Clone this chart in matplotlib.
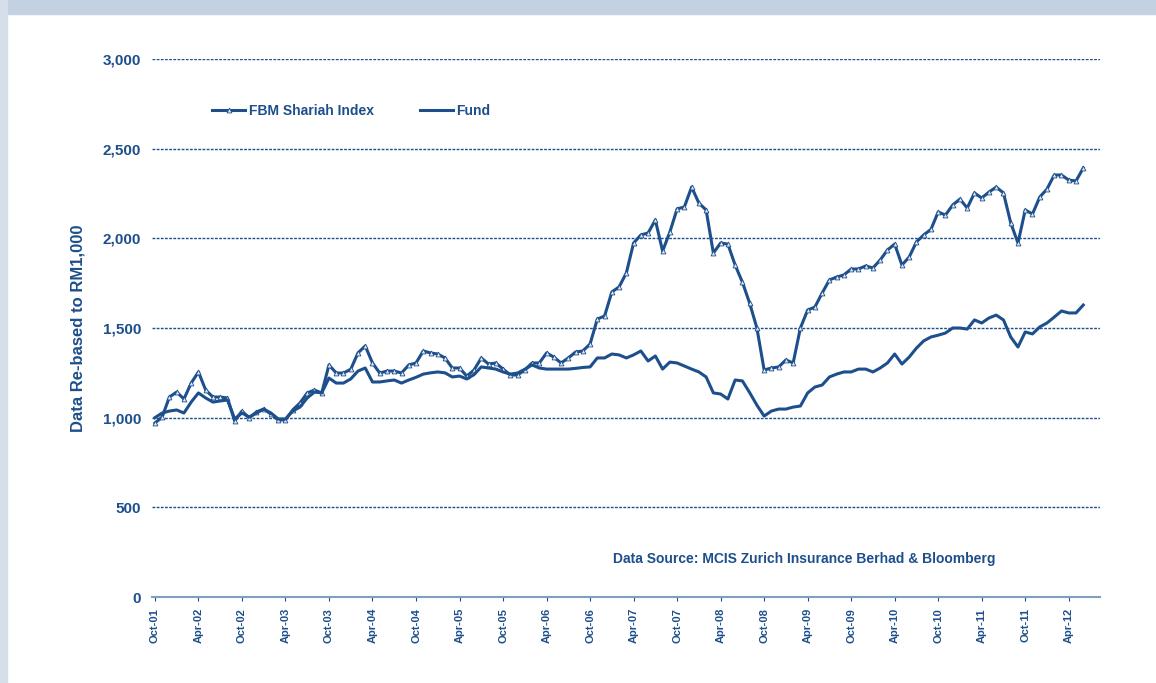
import matplotlib.pyplot as plt
from matplotlib.patches import Rectangle

plt.rcParams['font.family'] = ['Liberation Sans', 'DejaVu Sans']

# monthly points, Oct-01 .. Jun-12, rebased to RM1,000
index_vals = [970, 1004, 1115, 1143, 1104, 1193, 1255, 1154, 1115, 1115,
              1110, 981, 1037, 998, 1032, 1048, 1020, 987, 987, 1043,
              1082, 1138, 1154, 1138, 1294, 1249, 1249, 1270, 1361, 1400,
              1305, 1249, 1260, 1260, 1249, 1294, 1305, 1372, 1361, 1355,
              1333, 1277, 1277, 1232, 1266, 1333, 1299, 1305, 1271, 1238,
              1238, 1266, 1305, 1305, 1361, 1338, 1305, 1333, 1366, 1372,
              1411, 1550, 1567, 1701, 1729, 1807, 1974, 2019, 2030, 2102,
              1929, 2035, 2164, 2175, 2286, 2197, 2158, 1918, 1974, 1968,
              1851, 1756, 1639, 1500, 1266, 1277, 1283, 1322, 1305, 1500,
              1600, 1617, 1695, 1768, 1784, 1796, 1829, 1829, 1846, 1835,
              1879, 1935, 1968, 1851, 1896, 1980, 2019, 2050, 2147, 2130,
              2186, 2219, 2169, 2253, 2225, 2258, 2286, 2253, 2086, 1974,
              2158, 2136, 2230, 2275, 2353, 2353, 2325, 2320, 2392]
fund_vals = [1000, 1026, 1037, 1043, 1026, 1087, 1138, 1110, 1087, 1093,
             1099, 993, 1026, 1004, 1026, 1048, 1026, 993, 993, 1037,
             1059, 1110, 1143, 1138, 1221, 1193, 1193, 1216, 1260, 1277,
             1199, 1199, 1205, 1210, 1193, 1210, 1225, 1243, 1250, 1255,
             1250, 1227, 1232, 1216, 1240, 1283, 1277, 1271, 1255, 1243,
             1249, 1270, 1294, 1277, 1271, 1271, 1271, 1271, 1275, 1280,
             1283, 1333, 1333, 1355, 1350, 1333, 1350, 1372, 1316, 1344,
             1271, 1310, 1305, 1288, 1271, 1255, 1227, 1138, 1132, 1104,
             1210, 1205, 1140, 1070, 1009, 1037, 1048, 1048, 1059, 1065,
             1138, 1171, 1182, 1227, 1243, 1255, 1255, 1271, 1271, 1255,
             1277, 1305, 1355, 1299, 1338, 1388, 1428, 1450, 1460, 1472,
             1500, 1500, 1494, 1545, 1528, 1556, 1572, 1545, 1450, 1394,
             1478, 1467, 1506, 1528, 1561, 1595, 1584, 1584, 1628]
tick_labels = ['Oct-01', 'Apr-02', 'Oct-02', 'Apr-03', 'Oct-03', 'Apr-04',
               'Oct-04', 'Apr-05', 'Oct-05', 'Apr-06', 'Oct-06', 'Apr-07',
               'Oct-07', 'Apr-08', 'Oct-08', 'Apr-09', 'Oct-09', 'Apr-10',
               'Oct-10', 'Apr-11', 'Oct-11', 'Apr-12']

blue = '#1d4f8c'
months = list(range(len(index_vals)))

fig = plt.figure(figsize=(11.56, 6.83), dpi=100)
# light frame around the picture
fig.patches.append(Rectangle((0, 0.979), 1, 0.021, transform=fig.transFigure,
                             color='#c3d1e2', zorder=0))
fig.patches.append(Rectangle((0, 0), 0.006, 1, transform=fig.transFigure,
                             color='#d5dfea', zorder=0))
ax = fig.add_axes([0.1315, 0.1259, 0.82, 0.7877])

ax.plot(months, index_vals, color=blue, lw=2.2, marker='^', ms=3.5,
        mfc='#dfe8f3', mec=blue, mew=0.6, label='FBM Shariah Index')
ax.plot(months, fund_vals, color=blue, lw=2.2, label='Fund')

ax.set_ylim(0, 3000)
ax.set_xlim(-0.4, 130.3)
ax.set_yticks(range(0, 3001, 500))
ax.set_yticklabels(['{:,}'.format(v) for v in range(0, 3001, 500)],
                   fontsize=11, fontweight='bold', color=blue)
ax.set_xticks(range(0, 127, 6))
ax.set_xticklabels(tick_labels, rotation=90, fontsize=8, fontweight='bold',
                   color=blue)
ax.tick_params(axis='y', length=0, pad=8)
ax.tick_params(axis='x', length=3, color=blue, pad=5)

for v in range(500, 3001, 500):
    ax.axhline(v, color=blue, lw=1, ls=(0, (2, 1)), zorder=0)

for s in ['top', 'right', 'left']:
    ax.spines[s].set_visible(False)
ax.spines['bottom'].set_color('#7f9fc4')
ax.spines['bottom'].set_linewidth(1.5)

ax.set_ylabel('Data Re-based to RM1,000', fontsize=12, fontweight='bold',
              color=blue, labelpad=12)

leg = ax.legend(loc='upper left', bbox_to_anchor=(0.05, 0.94), ncol=2,
                frameon=False, handlelength=2.4, columnspacing=3.3,
                handletextpad=0.25,
                prop={'size': 10, 'weight': 'bold'})
for t in leg.get_texts():
    t.set_color(blue)

ax.text(0.486, 0.0706, 'Data Source: MCIS Zurich Insurance Berhad & Bloomberg',
        transform=ax.transAxes, fontsize=10, fontweight='bold', color=blue,
        ha='left', va='center')

fig.savefig('out.png', dpi=100)
